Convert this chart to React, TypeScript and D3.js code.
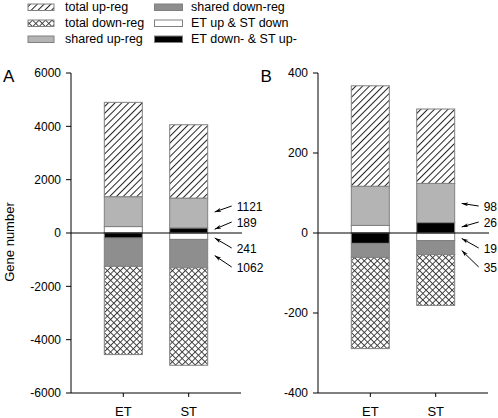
import React from "react";
import * as d3 from "d3";

// ---- data (index 0 = panel A, index 1 = panel B) ----
const panels = ["A", "B"];
const categories = ["ET", "ST"];
const totalUpET = [4900, 368];
const totalUpST = [4060, 310];
const totalDownET = [4560, 289];
const totalDownST = [4960, 181];
const sharedUp = [1121, 98];
const sharedDown = [1062, 35];
const etUpStDown = [241, 19];
const etDownStUp = [189, 26];
const yTicksA = [-6000, -4000, -2000, 0, 2000, 4000, 6000];
const yTicksB = [-400, -200, 0, 200, 400];
const yDomains = [
  [-6000, 6000],
  [-400, 400],
];
const legendItems = [
  { label: "total up-reg", fill: "url(#hatch)" },
  { label: "total down-reg", fill: "url(#cross)" },
  { label: "shared up-reg", fill: "#b4b4b4" },
  { label: "shared down-reg", fill: "#8e8e8e" },
  { label: "ET up & ST down", fill: "#ffffff" },
  { label: "ET down- & ST up-", fill: "#000000" },
];

const FONT = "Liberation Sans, Arial, Helvetica, sans-serif";
const LIGHT = "#b4b4b4";
const DARK = "#8e8e8e";
const EDGE = "#808080";
const TXT = "#000";

type Seg = { from: number; to: number; fill: string };

function Panel({ idx, axisX }: { idx: number; axisX: number }) {
  const width = 170;
  const top = 73;
  const bottom = 393;
  const barW = 38;
  const y = d3.scaleLinear().domain(yDomains[idx]).range([bottom, top]);
  const x = d3
    .scalePoint<string>()
    .domain(categories)
    .range([axisX, axisX + width])
    .padding(0.8);
  const ticks = idx === 0 ? yTicksA : yTicksB;

  const su = sharedUp[idx];
  const sd = sharedDown[idx];
  const eu = etUpStDown[idx];
  const ed = etDownStUp[idx];

  const stacks: Record<string, Seg[]> = {
    ET: [
      { from: 0, to: eu, fill: "#fff" },
      { from: eu, to: eu + su, fill: LIGHT },
      { from: eu + su, to: totalUpET[idx], fill: "url(#hatch)" },
      { from: 0, to: -ed, fill: "#000" },
      { from: -ed, to: -(ed + sd), fill: DARK },
      { from: -(ed + sd), to: -totalDownET[idx], fill: "url(#cross)" },
    ],
    ST: [
      { from: 0, to: ed, fill: "#000" },
      { from: ed, to: ed + su, fill: LIGHT },
      { from: ed + su, to: totalUpST[idx], fill: "url(#hatch)" },
      { from: 0, to: -eu, fill: "#fff" },
      { from: -eu, to: -(eu + sd), fill: DARK },
      { from: -(eu + sd), to: -totalDownST[idx], fill: "url(#cross)" },
    ],
  };

  const stRight = (x("ST") as number) + barW / 2;
  const zeroY = y(0);
  const annotations = [
    { text: String(su), seg: stacks.ST[1], dy: -26 },
    { text: String(ed), seg: stacks.ST[0], dy: -10 },
    { text: String(eu), seg: stacks.ST[3], dy: 16 },
    { text: String(sd), seg: stacks.ST[4], dy: 35 },
  ];

  return (
    <g>
      {categories.map((c) =>
        stacks[c].map((s, i) => {
          const y0 = y(Math.max(s.from, s.to));
          const y1 = y(Math.min(s.from, s.to));
          return (
            <rect
              key={c + i}
              x={(x(c) as number) - barW / 2}
              y={y0}
              width={barW}
              height={y1 - y0}
              fill={s.fill}
              stroke={EDGE}
              strokeWidth={1}
            />
          );
        })
      )}
      {/* zero line */}
      <line x1={axisX} x2={axisX + width + 1} y1={zeroY} y2={zeroY} stroke="#000" strokeWidth={1} />
      {/* y axis */}
      <line x1={axisX} x2={axisX} y1={top} y2={bottom} stroke="#000" strokeWidth={1} />
      {ticks.map((t) => (
        <g key={t}>
          <line x1={axisX - 5} x2={axisX} y1={y(t)} y2={y(t)} stroke="#000" />
          <text
            x={axisX - 10}
            y={y(t)}
            dy="0.36em"
            textAnchor="end"
            fontSize={12}
            fontFamily={FONT}
            fill={TXT}
          >
            {t}
          </text>
        </g>
      ))}
      {/* x axis */}
      <line x1={axisX} x2={axisX + width} y1={bottom} y2={bottom} stroke="#000" strokeWidth={1} />
      {categories.map((c) => (
        <g key={c}>
          <line x1={x(c) as number} x2={x(c) as number} y1={bottom} y2={bottom + 4} stroke="#000" />
          <text
            x={x(c) as number}
            y={415.5}
            textAnchor="middle"
            fontSize={13}
            fontFamily={FONT}
            fill={TXT}
          >
            {c}
          </text>
        </g>
      ))}
      {/* annotations */}
      {annotations.map((a, i) => {
        const ly = zeroY + a.dy;
        const tipY = y((a.seg.from + a.seg.to) / 2);
        const tipX = stRight + 4;
        const tailX = stRight + 24;
        return (
          <g key={i}>
            <line
              x1={tailX}
              y1={ly - 1}
              x2={tipX + 3}
              y2={tipY + ((ly - 1 - tipY) * 3) / (tailX - tipX)}
              stroke="#000"
              strokeWidth={1}
              markerEnd="url(#arrow)"
            />
            <text
              x={stRight + 29}
              y={ly}
              dy="0.36em"
              fontSize={12}
              fontFamily={FONT}
              fill={TXT}
            >
              {a.text}
            </text>
          </g>
        );
      })}
      <text
        x={idx === 0 ? 3 : 260.5}
        y={82}
        fontSize={17}
        fontFamily={FONT}
        fill={TXT}
      >
        {panels[idx]}
      </text>
    </g>
  );
}

export default function App() {
  return (
    <svg
      width={498}
      height={418}
      style={{ position: "absolute", left: 0, top: 0, background: "#fff" }}
    >
      <defs>
        <pattern id="hatch" patternUnits="userSpaceOnUse" width={4.8} height={10} patternTransform="rotate(45)">
          <rect width={4.8} height={10} fill="#fff" />
          <line x1={0.5} y1={0} x2={0.5} y2={10} stroke="#222" strokeWidth={1} />
        </pattern>
        <pattern id="cross" patternUnits="userSpaceOnUse" width={4.6} height={4.6} patternTransform="rotate(45)">
          <rect width={4.6} height={4.6} fill="#fff" />
          <line x1={0.5} y1={0} x2={0.5} y2={4.6} stroke="#333" strokeWidth={0.9} />
          <line x1={0} y1={0.5} x2={4.6} y2={0.5} stroke="#333" strokeWidth={0.9} />
        </pattern>
        <marker id="arrow" viewBox="0 0 10 6" refX={10} refY={3} markerWidth={9} markerHeight={4} orient="auto" markerUnits="userSpaceOnUse">
          <path d="M0,0 L10,3 L0,6 L3,3 Z" fill="#000" />
        </marker>
      </defs>
      {/* legend */}
      {legendItems.map((it, i) => {
        const col = Math.floor(i / 3);
        const row = i % 3;
        const sx = col === 0 ? 28 : 154.5;
        const tx = col === 0 ? 65 : 191;
        const base = 10.5 + row * 16;
        return (
          <g key={it.label}>
            <rect x={sx} y={base - 6.5} width={col === 0 ? 26 : 28} height={6.5} fill={it.fill} stroke={EDGE} strokeWidth={1} />
            <text x={tx} y={base} fontSize={12.5} fontFamily={FONT} fill={TXT}>
              {it.label}
            </text>
          </g>
        );
      })}
      <Panel idx={0} axisX={71} />
      <Panel idx={1} axisX={318} />
      <text
        transform="translate(13.5,242) rotate(-90)"
        textAnchor="middle"
        fontSize={13}
        fontFamily={FONT}
        fill={TXT}
      >
        Gene number
      </text>
    </svg>
  );
}
